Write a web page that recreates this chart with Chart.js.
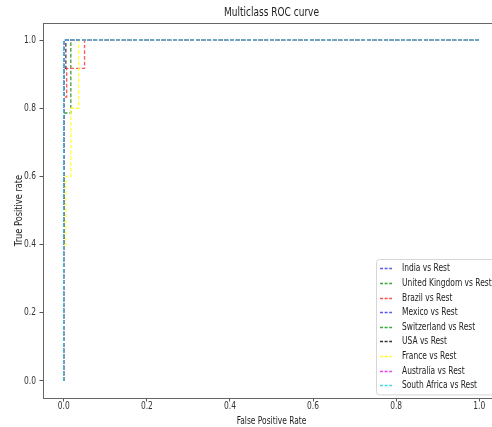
<!DOCTYPE html>
<html>
<head>
<meta charset="utf-8">
<script src="https://cdn.jsdelivr.net/npm/chart.js@4/dist/chart.umd.min.js"></script>
<style>
html,body{margin:0;padding:0;background:#fff;overflow:hidden;width:492px;height:427px;}
canvas{display:block;}
</style>
</head>
<body>
<canvas id="c" width="510" height="427"></canvas>
<script>
// ---- data ----
const categories = ['India vs Rest','United Kingdom vs Rest','Brazil vs Rest','Mexico vs Rest','Switzerland vs Rest','USA vs Rest','France vs Rest','Australia vs Rest','South Africa vs Rest'];
const indiaFpr = [0, 0, 1];            const indiaTpr = [0, 1, 1];
const ukFpr = [0, 0, 0.017, 0.017, 1]; const ukTpr = [0, 0.786, 0.786, 1, 1];
const brazilFpr = [0, 0, 0.007, 0.007, 0.05, 0.05, 1];
const brazilTpr = [0, 0.833, 0.833, 0.917, 0.917, 1, 1];
const mexicoFpr = [0, 0, 1];           const mexicoTpr = [0, 1, 1];
const switzerlandFpr = [0, 0, 1];      const switzerlandTpr = [0, 1, 1];
const usaFpr = [0, 0, 0.005, 0.005, 1];const usaTpr = [0, 0.917, 0.917, 1, 1];
const franceFpr = [0, 0, 0.005, 0.005, 0.017, 0.017, 0.036, 0.036, 1];
const franceTpr = [0, 0.4, 0.4, 0.6, 0.6, 0.8, 0.8, 1, 1];
const australiaFpr = [0, 0, 1];        const australiaTpr = [0, 1, 1];
const southAfricaFpr = [0, 0, 1];      const southAfricaTpr = [0, 1, 1];
const xTicks = [0, 0.2, 0.4, 0.6, 0.8, 1.0];
const yTicks = [0, 0.2, 0.4, 0.6, 0.8, 1.0];

const fprs = [indiaFpr, ukFpr, brazilFpr, mexicoFpr, switzerlandFpr, usaFpr, franceFpr, australiaFpr, southAfricaFpr];
const tprs = [indiaTpr, ukTpr, brazilTpr, mexicoTpr, switzerlandTpr, usaTpr, franceTpr, australiaTpr, southAfricaTpr];

// ---- styles ----
const lineColors = ['#4a4ae6','#3fa03f','#ff5a5a','#4a4ae6','#3fa03f','#444444','#ffff3a','#e64ae6','#42b6d2'];
const lineWidths = [1.3, 1.3, 1.3, 1.3, 1.3, 1.3, 1.3, 1.3, 1.6];
const legendColors = ['#5a5af0','#35aa35','#ff5050','#5a5af0','#35aa35','#333333','#ffff30','#f040f0','#40dce4'];
const FONT = "'DejaVu Sans', 'Liberation Sans', Arial, sans-serif";
const SX = 0.75; // horizontal text squeeze as in the reference image

const canvas = document.getElementById('c');
const ctx2d = canvas.getContext('2d');
const origFill = ctx2d.fillText.bind(ctx2d);
const origMeasure = ctx2d.measureText.bind(ctx2d);
ctx2d.fillText = function (t, x, y) {
  this.save();
  this.translate(x, y);
  this.scale(SX, 1);
  origFill(t, 0, 0);
  this.restore();
};
ctx2d.measureText = function (t) {
  const m = origMeasure(t);
  return {
    width: m.width * SX,
    actualBoundingBoxAscent: m.actualBoundingBoxAscent,
    actualBoundingBoxDescent: m.actualBoundingBoxDescent,
    actualBoundingBoxLeft: m.actualBoundingBoxLeft * SX,
    actualBoundingBoxRight: m.actualBoundingBoxRight * SX,
    fontBoundingBoxAscent: m.fontBoundingBoxAscent,
    fontBoundingBoxDescent: m.fontBoundingBoxDescent
  };
};

const N = categories.length;
const datasets = categories.map((name, i) => ({
  label: name,
  data: fprs[i].map((x, j) => ({x: x, y: tprs[i][j]})),
  borderColor: lineColors[i],
  backgroundColor: lineColors[i],
  legendColor: legendColors[i],
  borderWidth: lineWidths[i],
  borderDash: [3.7, 2],
  pointRadius: 0,
  fill: false,
  tension: 0,
  order: N - i
}));

const framePlugin = {
  id: 'frame',
  afterDraw(chart) {
    const {ctx, chartArea: a} = chart;
    ctx.save();
    ctx.strokeStyle = '#666';
    ctx.lineWidth = 1;
    ctx.strokeRect(Math.round(a.left) + 0.5, Math.round(a.top) + 0.5, a.right - a.left, a.bottom - a.top);
    // legend (matplotlib style, lower right inside axes)
    ctx.font = '10px ' + FONT;
    const ds = chart.data.datasets;
    let maxW = 0;
    ds.forEach(d => { maxW = Math.max(maxW, ctx.measureText(d.label).width); });
    const rowH = 14.6;
    const boxW = 25 + maxW + 5;
    const boxH = rowH * ds.length + 4;
    const right = a.right - 4;
    const bottom = a.bottom - 4;
    const left = Math.round(right - boxW);
    const top = Math.round(bottom - boxH);
    ctx.beginPath();
    if (ctx.roundRect) ctx.roundRect(left + 0.5, top + 0.5, boxW, boxH, 3); else ctx.rect(left + 0.5, top + 0.5, boxW, boxH);
    ctx.fillStyle = 'rgba(255,255,255,0.85)';
    ctx.fill();
    ctx.strokeStyle = '#d6d6d6';
    ctx.stroke();
    ctx.textBaseline = 'middle';
    ctx.textAlign = 'left';
    ds.forEach((d, i) => {
      const y = Math.round(top + 2 + rowH * (i + 0.5)) + 0.5;
      ctx.beginPath();
      ctx.setLineDash([3, 1.6]);
      ctx.strokeStyle = d.legendColor;
      ctx.lineWidth = 1.4;
      ctx.moveTo(left + 4, y);
      ctx.lineTo(left + 16, y);
      ctx.stroke();
      ctx.setLineDash([]);
      ctx.fillStyle = '#222';
      ctx.fillText(d.label, left + 26, y);
    });
    ctx.restore();
  }
};

new Chart(canvas, {
  type: 'line',
  data: {datasets},
  plugins: [framePlugin],
  options: {
    responsive: false,
    animation: false,
    layout: {padding: {left: 0, right: 10, top: 0, bottom: 0}},
    plugins: {
      legend: {display: false},
      tooltip: {enabled: false},
      title: {
        display: true,
        text: 'Multiclass ROC curve',
        fullSize: false,
        color: '#222',
        font: {family: FONT, size: 12, weight: 'normal', lineHeight: 1},
        padding: {top: 7, bottom: 4}
      }
    },
    scales: {
      x: {
        type: 'linear', min: -0.05, max: 1.05,
        afterBuildTicks(s) { s.ticks = xTicks.map(v => ({value: v})); },
        grid: {display: true, drawOnChartArea: false, drawTicks: true, tickLength: 3.5, color: '#555'},
        border: {display: true, color: '#666'},
        ticks: {color: '#333', padding: 0, maxRotation: 0, autoSkip: false, font: {family: FONT, size: 10, lineHeight: 1}, callback: v => Number(v).toFixed(1)},
        title: {display: true, text: 'False Positive Rate', color: '#222', font: {family: FONT, size: 10, lineHeight: 1.2}, padding: {top: 3.5, bottom: 0}}
      },
      y: {
        type: 'linear', min: -0.05, max: 1.05,
        afterFit(s) { s.width = 43; },
        afterBuildTicks(s) { s.ticks = yTicks.map(v => ({value: v})); },
        grid: {display: true, drawOnChartArea: false, drawTicks: true, tickLength: 3.5, color: '#555'},
        border: {display: true, color: '#666'},
        ticks: {color: '#333', padding: 3.5, autoSkip: false, font: {family: FONT, size: 10, lineHeight: 1}, callback: v => Number(v).toFixed(1)},
        title: {display: true, text: 'True Positive rate', color: '#222', font: {family: FONT, size: 11, lineHeight: 1.1}, padding: {top: 13, bottom: 0}}
      }
    }
  }
});
</script>
</body>
</html>
